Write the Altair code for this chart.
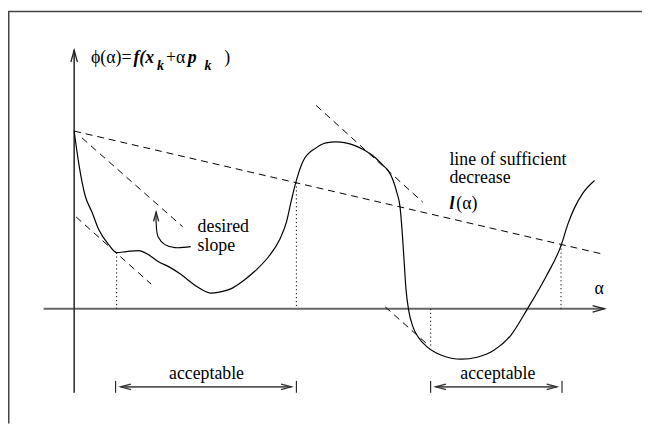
import altair as alt
import pandas as pd

# ---- data (alpha, phi) in figure units ----
curve_a = [0.00, 0.05, 0.11, 0.18, 0.25, 0.35, 0.43, 0.53, 0.65, 0.75, 0.85, 0.97, 1.08, 1.17,
           1.25, 1.32, 1.38, 1.47, 1.58, 1.72, 1.85, 1.97, 2.08, 2.15, 2.20, 2.25, 2.32, 2.45,
           2.55, 2.65, 2.75, 2.85, 2.95, 3.05, 3.13, 3.18, 3.23, 3.27, 3.30, 3.32, 3.34, 3.36,
           3.39, 3.43, 3.48, 3.58, 3.72, 3.92, 4.08, 4.25, 4.42, 4.59, 4.78, 4.93, 5.00, 5.07,
           5.15, 5.27]
curve_p = [1.80, 1.45, 1.15, 0.98, 0.80, 0.65, 0.57, 0.58, 0.59, 0.55, 0.48, 0.42, 0.35, 0.28,
           0.22, 0.18, 0.16, 0.17, 0.20, 0.29, 0.40, 0.53, 0.70, 0.88, 1.10, 1.30, 1.50, 1.63,
           1.68, 1.69, 1.68, 1.65, 1.60, 1.53, 1.45, 1.40, 1.30, 1.17, 1.03, 0.80, 0.50, 0.20,
           -0.03, -0.18, -0.28, -0.39, -0.47, -0.51, -0.49, -0.42, -0.27, 0.00, 0.33, 0.64, 0.86, 1.03,
           1.17, 1.30]

# dashed lines: sufficient decrease, desired slope, three tangents
dash_a1 = [0.00, 0.08, 0.02, 2.45, 3.15]
dash_p1 = [1.80, 1.73, 0.93, 2.06, 0.02]
dash_a2 = [5.37, 1.10, 0.78, 3.53, 3.60]
dash_p2 = [0.55, 0.83, 0.25, 1.08, -0.38]

# dotted verticals
dot_a = [0.43, 2.25, 4.93, 3.61]
dot_p1 = [0.57, 1.28, 0.65, 0.00]
dot_p2 = [0.00, 0.00, 0.00, -0.40]

# axes
xaxis_a = [-0.31, 5.37]
yaxis_p = [-0.85, 2.62]

# acceptable brackets
bracket_left = [0.42, 3.61]
bracket_right = [2.25, 4.94]
bracket_p = -0.79
bracket_bar = [-0.73, -0.85]

# curved arrow ("desired slope")
carrow_a = [1.18, 1.02, 0.92, 0.85, 0.83, 0.83]
carrow_p = [0.63, 0.62, 0.65, 0.73, 0.87, 0.98]

# labels
center_text = ["acceptable", "acceptable"]
center_a = [1.34, 4.29]
center_p = [-0.71, -0.71]
left_text = ["desired", "slope", "line of sufficient", "decrease", "α"]
left_a = [1.25, 1.25, 3.80, 3.80, 5.27]
left_p = [0.78, 0.59, 1.46, 1.27, 0.15]

# formula pieces
f_norm_text = ["ϕ(α)=", "+α", ")", "(α)"]
f_norm_a = [0.17, 0.93, 1.52, 3.87]
f_norm_p = [2.49, 2.49, 2.49, 1.01]
f_bi_text = ["f(x", "p", "l"]
f_bi_a = [0.60, 1.15, 3.80]
f_bi_p = [2.49, 2.49, 1.01]
f_sub_text = ["k", "k"]
f_sub_a = [0.84, 1.32]
f_sub_p = [2.42, 2.42]

FONT = "Liberation Serif, Times New Roman, Times, serif"
X = alt.Scale(domain=[-0.67, 5.75], nice=False, zero=False)
Y = alt.Scale(domain=[-1.16, 3.02], nice=False, zero=False)
RIGHT_CHEVRON = "M -2 -0.55 L 0 0 L -2 0.55"


def xe(field):
    return alt.X(field, type="quantitative", scale=X, axis=None)


def ye(field):
    return alt.Y(field, type="quantitative", scale=Y, axis=None)


# frame
frame_top = alt.Chart(pd.DataFrame({"d": [0]})).mark_rule(color="#444", strokeWidth=1.5).encode(
    x=alt.value(0), x2=alt.value(642), y=alt.value(1))
frame_left = alt.Chart(pd.DataFrame({"d": [0]})).mark_rule(color="#444", strokeWidth=1.5).encode(
    x=alt.value(0.75), y=alt.value(1), y2=alt.value(418))

# axes
xaxis = alt.Chart(pd.DataFrame({"a": [xaxis_a[0]], "a2": [xaxis_a[1]], "p": [0.0]})).mark_rule(
    color="#666", strokeWidth=2).encode(x=xe("a"), x2="a2", y=ye("p"))
yaxis = alt.Chart(pd.DataFrame({"a": [0.0], "p": [yaxis_p[0]], "p2": [yaxis_p[1]]})).mark_rule(
    color="#222", strokeWidth=1.5).encode(x=xe("a"), y=ye("p"), y2="p2")

# arrow heads
heads = pd.DataFrame({
    "a": [xaxis_a[1], 0.0, carrow_a[-1]],
    "p": [0.0, yaxis_p[1], carrow_p[-1]],
    "ang": [0, 270, 270],
    "sz": [144, 144, 90],
})
axis_heads = alt.Chart(heads).mark_point(
    shape=RIGHT_CHEVRON, filled=False, color="#222", strokeWidth=1.3, opacity=1
).encode(x=xe("a"), y=ye("p"), angle=alt.Angle("ang:Q", scale=None), size=alt.Size("sz:Q", scale=None))

# curve
curve = alt.Chart(pd.DataFrame({"a": curve_a, "p": curve_p})).mark_line(
    color="black", strokeWidth=1.2, interpolate="monotone").encode(x=xe("a"), y=ye("p"))

# dashed
dashed = alt.Chart(pd.DataFrame({"a": dash_a1, "p": dash_p1, "a2": dash_a2, "p2": dash_p2})).mark_rule(
    color="black", strokeWidth=1, strokeDash=[7, 5]).encode(x=xe("a"), y=ye("p"), x2="a2", y2="p2")

# dotted
dotted = alt.Chart(pd.DataFrame({"a": dot_a, "p": dot_p1, "p2": dot_p2})).mark_rule(
    color="black", strokeWidth=1, strokeDash=[1.2, 2.8]).encode(x=xe("a"), y=ye("p"), y2="p2")

# curved arrow
carrow = alt.Chart(pd.DataFrame({"a": carrow_a, "p": carrow_p, "o": list(range(len(carrow_a)))})).mark_line(
    color="black", strokeWidth=1.1, interpolate="catmull-rom").encode(x=xe("a"), y=ye("p"), order="o:Q")

# brackets
br_df = pd.DataFrame({"l": bracket_left, "r": bracket_right})
br_df["ls"] = br_df["l"] + 0.05
br_df["rs"] = br_df["r"] - 0.05
br_df["p"] = bracket_p
br_line = alt.Chart(br_df).mark_rule(color="#555", strokeWidth=1.8).encode(
    x=xe("ls"), x2="rs", y=ye("p"))
bars = pd.DataFrame({"a": bracket_left + bracket_right, "p": bracket_bar[0], "p2": bracket_bar[1]})
br_bars = alt.Chart(bars).mark_rule(color="black", strokeWidth=1).encode(x=xe("a"), y=ye("p"), y2="p2")
bh = pd.DataFrame({
    "a": list(br_df["ls"]) + list(br_df["rs"]),
    "p": [bracket_p] * 4,
    "ang": [180, 180, 0, 0],
})
br_heads = alt.Chart(bh).mark_point(
    shape=RIGHT_CHEVRON, filled=False, color="#333", strokeWidth=1.3, opacity=1, size=110
).encode(x=xe("a"), y=ye("p"), angle=alt.Angle("ang:Q", scale=None))

# texts
t_center = alt.Chart(pd.DataFrame({"a": center_a, "p": center_p, "t": center_text})).mark_text(
    font=FONT, fontSize=18, align="center", baseline="alphabetic", color="black").encode(
    x=xe("a"), y=ye("p"), text="t:N")
t_left = alt.Chart(pd.DataFrame({"a": left_a, "p": left_p, "t": left_text})).mark_text(
    font=FONT, fontSize=18, align="left", baseline="alphabetic", color="black").encode(
    x=xe("a"), y=ye("p"), text="t:N")
t_fn = alt.Chart(pd.DataFrame({"a": f_norm_a, "p": f_norm_p, "t": f_norm_text})).mark_text(
    font=FONT, fontSize=18, align="left", baseline="alphabetic", color="black").encode(
    x=xe("a"), y=ye("p"), text="t:N")
t_bi = alt.Chart(pd.DataFrame({"a": f_bi_a, "p": f_bi_p, "t": f_bi_text})).mark_text(
    font=FONT, fontSize=18, fontStyle="italic", fontWeight="bold", align="left",
    baseline="alphabetic", color="black").encode(x=xe("a"), y=ye("p"), text="t:N")
t_sub = alt.Chart(pd.DataFrame({"a": f_sub_a, "p": f_sub_p, "t": f_sub_text})).mark_text(
    font=FONT, fontSize=14, fontStyle="italic", fontWeight="bold", align="left",
    baseline="alphabetic", color="black").encode(x=xe("a"), y=ye("p"), text="t:N")

chart = alt.layer(
    frame_top, frame_left, xaxis, yaxis, dotted, dashed, curve, carrow, axis_heads,
    br_line, br_bars, br_heads, t_center, t_left, t_fn, t_bi, t_sub
).properties(
    width=642, height=418, autosize=alt.AutoSizeParams(type="none"), padding=0,
    background="white"
).configure_view(stroke=None)

chart.save("out.html", embed_options={"renderer": "svg", "actions": False})
